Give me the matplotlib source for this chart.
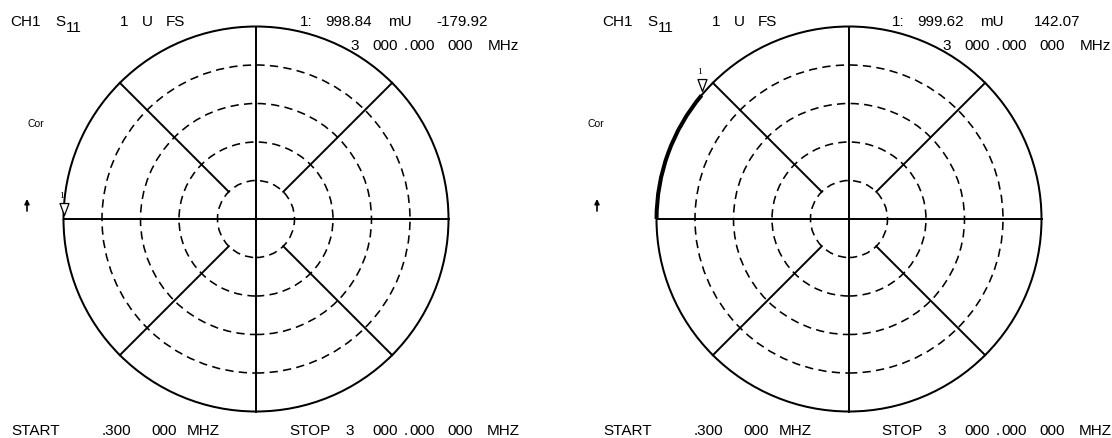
import numpy as np
import matplotlib.pyplot as plt
from matplotlib.patches import Circle, Arc
from matplotlib.path import Path

plt.rcParams["font.family"] = ["Liberation Sans", "DejaVu Sans"]

W, H = 1112, 438

# polar graticule, in fractions of full scale (1 U)
grid_rings = [0.2, 0.4, 0.6, 0.8]
spoke_angles = [45, 135, 225, 315]
spoke_start = 0.2

# S11 trace per panel: sweep start / stop phase (deg) and magnitude (U)
trace_start_deg = [180.0, 180.0]
trace_stop_deg = [180.08, 140.0]
trace_mag = [0.99884, 0.99962]

# marker readouts
marker_value = ["998.84", "999.62"]
marker_phase = ["-179.92", "142.07"]

# panel layout in pixels
centers = [(256, 219), (849, 219)]
R = 192.5
text_dx = [0, 592]
cor_x = [27, 587]
arrow_x = [27, 597]

fig = plt.figure(figsize=(W / 100, H / 100), dpi=100)
ov = fig.add_axes([0, 0, 1, 1])
ov.set_xlim(0, W)
ov.set_ylim(H, 0)
ov.axis("off")

# open triangle marker, tip a little above the point
tri = Path([(-4.5, 16), (4.5, 16), (0, 4), (-4.5, 16)],
           [Path.MOVETO, Path.LINETO, Path.LINETO, Path.CLOSEPOLY])


def draw_panel(i):
    cx, cy = centers[i]
    ax = fig.add_axes([(cx - R) / W, (H - cy - R) / H, 2 * R / W, 2 * R / H])
    ax.set_xlim(-1, 1)
    ax.set_ylim(-1, 1)
    ax.axis("off")

    ax.add_patch(Circle((0, 0), 1, fill=False, lw=1.45, color="black", clip_on=False))
    for r in grid_rings:
        ax.add_patch(Circle((0, 0), r, fill=False, lw=1.15, color="black",
                            linestyle=(0, (5.2, 3.3)), clip_on=False))
    ax.plot([-1, 1], [0, 0], color="black", lw=1.4, clip_on=False)
    ax.plot([0, 0], [-1, 1], color="black", lw=1.4, clip_on=False)
    for a in spoke_angles:
        c, s = np.cos(np.radians(a)), np.sin(np.radians(a))
        ax.plot([spoke_start * c, c], [spoke_start * s, s], color="black", lw=1.4, clip_on=False)

    m = trace_mag[i]
    t1, t2 = sorted([trace_start_deg[i], trace_stop_deg[i]])
    ax.add_patch(Arc((0, 0), 2 * m, 2 * m, theta1=t1, theta2=t2, lw=2.9,
                     color="black", clip_on=False))

    ph = np.radians(trace_stop_deg[i])
    px, py = m * np.cos(ph), m * np.sin(ph)
    ax.plot([px], [py], marker=tri, ms=23, mfc="white", mec="black", mew=0.9,
            clip_on=False, zorder=5)
    ax.annotate("1", (px, py), xytext=(-1.5, 16.5), textcoords="offset points",
                ha="center", va="center", fontsize=6.8, family="Liberation Serif")


def draw_texts(i):
    dx = text_dx[i]
    fs = 11
    top = [("CH1", 10), ("S", 55), ("1", 119.6), ("U", 141.8), ("FS", 166),
           ("1:", 300), (marker_value[i], 325), ("mU", 388)]
    for s, x in top:
        ov.text(x + dx, 26, s, fontsize=fs, va="baseline")
    ov.text(66 + dx, 31.5, "11", fontsize=fs, va="baseline")
    ov.text(488 + dx, 26, marker_phase[i], fontsize=fs, va="baseline", ha="right")

    line2 = [("3", 350), ("000", 372), (".", 404), ("000", 409), ("000", 447), ("MHz", 488)]
    for s, x in line2:
        ov.text(x + dx, 50, s, fontsize=fs, va="baseline")

    bottom = [("START", 11), (".300", 102), ("000", 151), ("MHZ", 187),
              ("STOP", 289), ("3", 345), ("000", 372), (".", 404), ("000", 409),
              ("000", 447), ("MHZ", 487)]
    for s, x in bottom:
        ov.text(x + dx, 435, s, fontsize=fs, va="baseline")

    ov.text(cor_x[i], 124, "Cor", fontsize=7.5, va="center")
    ov.annotate("", xy=(arrow_x[i], 199), xytext=(arrow_x[i], 211),
                arrowprops=dict(arrowstyle="-|>", color="black", lw=1.2,
                                mutation_scale=7, shrinkA=0, shrinkB=0))


for i in range(2):
    draw_panel(i)
    draw_texts(i)

fig.savefig("out.png", dpi=100)
